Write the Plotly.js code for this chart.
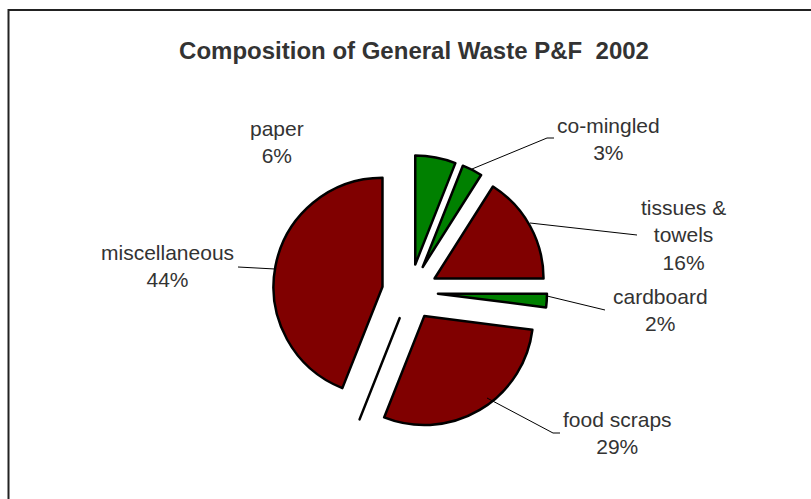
<!DOCTYPE html>
<html>
<head>
<meta charset="utf-8">
<script src="https://cdn.plot.ly/plotly-3.0.1.min.js"></script>
<style>html,body{margin:0;padding:0;background:#fff}#chart{width:811px;height:499px}</style>
</head>
<body>
<div id="chart"></div>
<script>
// ---- data ----
const categories = ["paper", "co-mingled", "tissues & towels", "cardboard", "food scraps", "other", "miscellaneous"];
const percents   = [6, 3, 16, 2, 29, 0, 44];
const sliceColors = ["#008000", "#008000", "#800000", "#008000", "#800000", "#800000", "#800000"];

// ---- layout helpers (pixel -> paper) ----
const W = 811, H = 499;
const px = x => x / W;
const py = y => 1 - y / H;

const total = percents.reduce((a, b) => a + b, 0);
const pctText = v => Math.round(100 * v / total) + "%";
const wrap = s => s.replace(" & ", " &<br>");

// label positions (pixel centres) and leader lines, per category index
const labelPos = {0: [277, 142], 1: [608, 139], 2: [683, 235], 3: [660, 310], 4: [617, 433], 6: [167, 266]};
const leaders = {
  1: [[472, 169], [547, 138], [554, 138]],
  2: [[530, 223], [637, 235]],
  3: [[547, 296], [605, 310]],
  4: [[487, 398], [553, 433], [560, 433]],
  6: [[238, 267], [275, 269]]
};

const annotations = [];
const shapes = [];
categories.forEach((c, i) => {
  if (!labelPos[i]) return;
  annotations.push({
    xref: "paper", yref: "paper",
    x: px(labelPos[i][0]), y: py(labelPos[i][1]),
    xanchor: "center", yanchor: "middle",
    text: wrap(c) + "<br>" + pctText(percents[i]),
    showarrow: false, align: "center",
    font: {family: "Arial, 'Liberation Sans', sans-serif", size: 21, color: "#333333"}
  });
  if (leaders[i]) {
    const path = leaders[i].map((p, k) => (k ? "L" : "M") + px(p[0]) + "," + py(p[1])).join(" ");
    shapes.push({type: "path", xref: "paper", yref: "paper", path: path,
                 line: {color: "#000000", width: 1}});
  }
});

// chart frame
shapes.push({type: "rect", xref: "paper", yref: "paper",
  x0: px(8.5), x1: px(840), y0: py(530), y1: py(10),
  line: {color: "#222222", width: 2}, layer: "below"});

const cx = 410, cy = 292, half = 137;
const trace = {
  type: "pie",
  labels: categories,
  values: percents,
  sort: false,
  direction: "clockwise",
  rotation: 0,
  pull: 0.257,
  marker: {colors: sliceColors, line: {color: "#000000", width: 2.5}},
  textinfo: "none",
  hoverinfo: "none",
  showlegend: false,
  domain: {x: [px(cx - half), px(cx + half)], y: [py(cy + half), py(cy - half)]}
};

const layout = {
  width: W, height: H,
  margin: {l: 0, r: 0, t: 0, b: 0},
  paper_bgcolor: "#ffffff",
  showlegend: false,
  title: {
    text: "<b>Composition of General Waste P&F  2002</b>",
    x: px(414), y: py(51), xref: "paper", yref: "paper",
    xanchor: "center", yanchor: "middle",
    font: {family: "Arial, 'Liberation Sans', sans-serif", size: 24, color: "#333333"}
  },
  annotations: annotations,
  shapes: shapes
};

Plotly.newPlot("chart", [trace], layout, {staticPlot: true, displayModeBar: false});
</script>
</body>
</html>
